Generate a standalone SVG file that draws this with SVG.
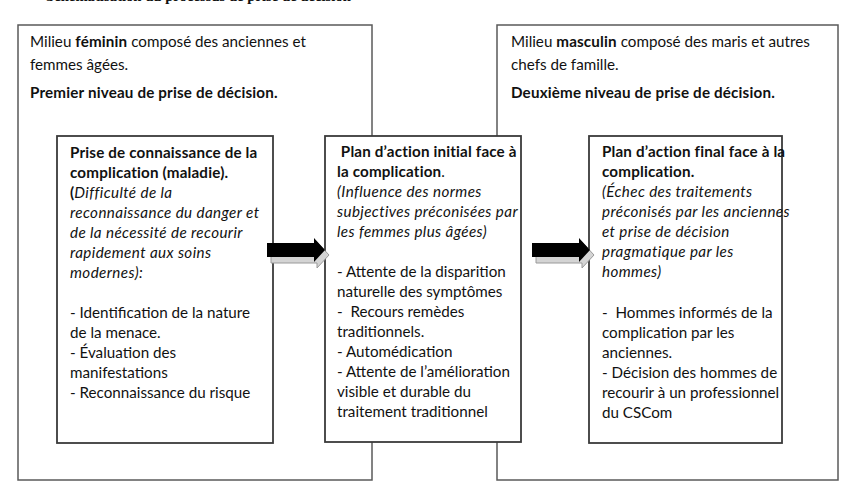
<svg xmlns="http://www.w3.org/2000/svg" width="853" height="504" viewBox="0 0 853 504">
<style>
.outer{fill:#fff;stroke:#5a5a5a;stroke-width:1.5}
.inner{fill:#fff;stroke:#3a3a3a;stroke-width:1.8}
text{font-family:Lato,"Open Sans","Liberation Sans",sans-serif;font-size:15.2px;fill:#111}
.b{font-weight:bold;letter-spacing:0.17px}
.i{font-style:italic;letter-spacing:0.4px}
.title{font-family:"Liberation Serif",serif;font-weight:bold;font-size:14.7px;letter-spacing:0}
.shadow{fill:#d4d4d4;stroke:#9a9a9a;stroke-width:1}
.arrow{fill:#000}
</style>
<defs>
<g id="arr">
<polygon class="shadow" points="4,9 50,9 50,4 62,17 50,30 50,25 4,25"/>
<polygon class="arrow" points="0,5 47,5 47,0 58,12 47,24 47,19 0,19"/>
</g>
</defs>
<rect width="853" height="504" fill="#fff"/>
<text class="title" x="46" y="1">Schématisation du processus de prise de décision</text>

<g id="milieu-feminin">
<rect class="outer" x="18" y="25" width="354" height="455"/>
<text x="30" y="47">Milieu <tspan class="b">féminin</tspan> composé des anciennes et</text>
<text x="30" y="70">femmes âgées.</text>
<text x="30" y="98" class="b">Premier niveau de prise de décision.</text>
</g>

<g id="milieu-masculin">
<rect class="outer" x="497" y="25" width="341" height="455"/>
<text x="511" y="47">Milieu <tspan class="b">masculin</tspan> composé des maris et autres</text>
<text x="511" y="70">chefs de famille.</text>
<text x="511" y="98" class="b">Deuxième niveau de prise de décision.</text>
</g>

<g id="prise-connaissance">
<rect class="inner" x="57" y="136" width="216" height="307"/>
<text x="70" y="158" class="b">Prise de connaissance de la</text>
<text x="70" y="178" class="b">complication (maladie).</text>
<text x="70" y="198"><tspan class="b">(</tspan><tspan class="i">Difficulté de la</tspan></text>
<text x="70" y="218" class="i">reconnaissance du danger et</text>
<text x="70" y="238" class="i">de la nécessité de recourir</text>
<text x="70" y="258" class="i">rapidement aux soins</text>
<text x="70" y="278" class="i">modernes):</text>
<text x="70" y="318">- Identification de la nature</text>
<text x="70" y="338">de la menace.</text>
<text x="70" y="358">- Évaluation des</text>
<text x="70" y="378">manifestations</text>
<text x="70" y="398">- Reconnaissance du risque</text>
</g>

<g id="plan-initial">
<rect class="inner" x="325" y="136" width="196" height="306"/>
<text x="337" y="157" class="b" xml:space="preserve"> Plan d’action initial face à</text>
<text x="337" y="177"><tspan class="b">la complication</tspan>.</text>
<text x="337" y="197" class="i">(Influence des normes</text>
<text x="337" y="217" class="i">subjectives préconisées par</text>
<text x="337" y="237" class="i">les femmes plus âgées)</text>
<text x="337" y="277">- Attente de la disparition</text>
<text x="337" y="297">naturelle des symptômes</text>
<text x="337" y="317" xml:space="preserve">-  Recours remèdes</text>
<text x="337" y="337">traditionnels.</text>
<text x="337" y="357">- Automédication</text>
<text x="337" y="377">- Attente de l’amélioration</text>
<text x="337" y="397">visible et durable du</text>
<text x="337" y="417">traitement traditionnel</text>
</g>

<g id="plan-final">
<rect class="inner" x="589" y="136" width="193" height="307"/>
<text x="602" y="157" class="b">Plan d’action final face à la</text>
<text x="602" y="177" class="b">complication.</text>
<text x="602" y="197" class="i">(Échec des traitements</text>
<text x="602" y="217" class="i">préconisés par les anciennes</text>
<text x="602" y="237" class="i">et prise de décision</text>
<text x="602" y="257" class="i">pragmatique par les</text>
<text x="602" y="277" class="i">hommes)</text>
<text x="602" y="318" xml:space="preserve">-  Hommes informés de la</text>
<text x="602" y="338">complication par les</text>
<text x="602" y="358">anciennes.</text>
<text x="602" y="378">- Décision des hommes de</text>
<text x="602" y="398">recourir à un professionnel</text>
<text x="602" y="418">du CSCom</text>
</g>

<g id="connectors">
<use href="#arr" x="267" y="238"/>
<use href="#arr" x="532" y="238"/>
</g>
</svg>
